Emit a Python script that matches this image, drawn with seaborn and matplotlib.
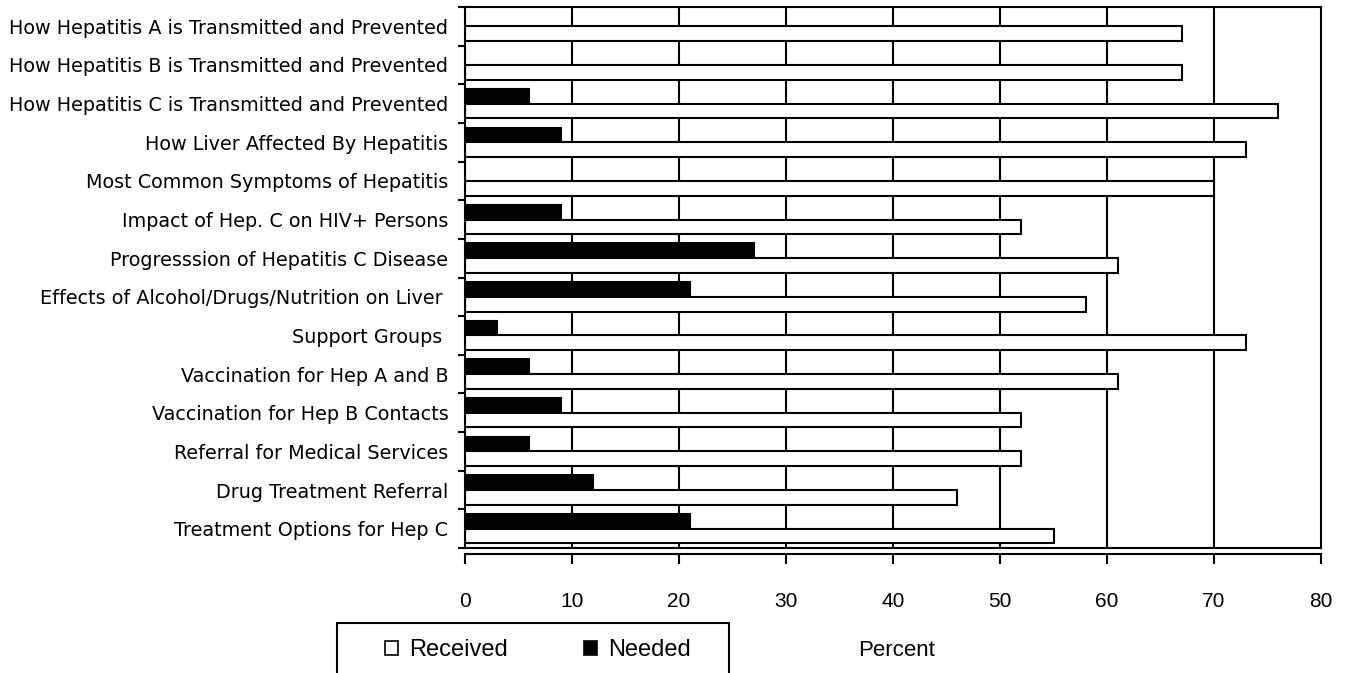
import numpy as np
import pandas as pd
import matplotlib
matplotlib.use("Agg")
import matplotlib.pyplot as plt
from matplotlib.patches import Patch, Rectangle
from matplotlib.ticker import FixedLocator
import seaborn as sns

# Chart data
topics = [
    "How Hepatitis A is Transmitted and Prevented",
    "How Hepatitis B is Transmitted and Prevented",
    "How Hepatitis C is Transmitted and Prevented",
    "How Liver Affected By Hepatitis",
    "Most Common Symptoms of Hepatitis",
    "Impact of Hep. C on HIV+ Persons",
    "Progresssion of Hepatitis C Disease",
    "Effects of Alcohol/Drugs/Nutrition on Liver ",
    "Support Groups ",
    "Vaccination for Hep A and B",
    "Vaccination for Hep B Contacts",
    "Referral for Medical Services",
    "Drug Treatment Referral",
    "Treatment Options for Hep C",
]
received = [67, 67, 76, 73, 70, 52, 61, 58, 73, 61, 52, 52, 46, 55]
needed = [0, 0, 6, 9, 0, 9, 27, 21, 3, 6, 9, 6, 12, 21]
series = ["Needed", "Received"]
x_ticks = [0, 10, 20, 30, 40, 50, 60, 70, 80]

df = pd.DataFrame({
    "Topic": topics * 2,
    "Series": ["Needed"] * len(topics) + ["Received"] * len(topics),
    "Percent": needed + received,
})

sns.set_style("white")
plt.rcParams["font.family"] = ["Liberation Sans", "DejaVu Sans"]
plt.rcParams["text.color"] = "black"
plt.rcParams["xtick.color"] = "black"
plt.rcParams["ytick.color"] = "black"
plt.rcParams["axes.labelcolor"] = "black"

arial = ["Liberation Sans", "DejaVu Sans"]

W, H = 1346, 673
fig = plt.figure(figsize=(W / 100, H / 100), dpi=100)
ax = fig.add_axes([465 / W, 1 - 548 / H, (1321 - 465) / W, (548 - 7) / H])

# vertical gridlines behind the bars
for xv in x_ticks[1:-1]:
    ax.axvline(xv, color="black", lw=1.5, zorder=0)

sns.barplot(data=df, y="Topic", x="Percent", hue="Series", order=topics,
            hue_order=series, palette={"Needed": "black", "Received": "white"},
            edgecolor="black", linewidth=1.5, width=0.76, orient="h",
            legend=False, ax=ax, zorder=2)

n = len(topics)
ax.set_xlim(0, 80)
ax.set_ylim(n - 0.5, -0.5)
ax.axhline(n - 0.5, color="black", lw=1.5, clip_on=False, zorder=3)

for side in ["top", "right", "left", "bottom"]:
    ax.spines[side].set_visible(True)
    ax.spines[side].set_color("black")
    ax.spines[side].set_linewidth(1.5)
ax.spines["bottom"].set_position(("outward", 4.5))

ax.set_xticks(x_ticks)
ax.set_xticklabels([str(v) for v in x_ticks], fontsize=15, family=arial)
ax.tick_params(axis="x", direction="out", length=7, width=1.5, pad=20,
               bottom=True, color="black")

ax.set_yticks(range(n))
ax.set_yticklabels(topics, fontsize=13.8, family=["DejaVu Sans Condensed", "DejaVu Sans"])
ax.tick_params(axis="y", which="major", length=0, pad=12)
ax.yaxis.set_minor_locator(FixedLocator(np.arange(-0.5, n, 1.0)))
ax.tick_params(axis="y", which="minor", direction="out", length=5, width=1.5,
               left=True, color="black")

ax.set_ylabel("")
ax.set_xlabel("Percent", fontsize=16, family=arial)
ax.xaxis.set_label_coords((897 - 465) / (1321 - 465), (548 - 650) / (548 - 7))
ax.xaxis.label.set_va("center")

# legend box (bottom runs off the figure edge)
fig.patches.append(Rectangle((337 / W, -0.05), (729 - 337) / W, 0.05 + 1 - 623 / H,
                             transform=fig.transFigure, facecolor="white",
                             edgecolor="black", lw=1.5))
handles = [Patch(facecolor="white", edgecolor="black", lw=1.2),
           Patch(facecolor="black", edgecolor="black", lw=1.2)]
fig.legend(handles, ["Received", "Needed"], ncol=2, frameon=False,
           loc="center", bbox_to_anchor=(((378 + 698) / 2) / W, 1 - 650 / H),
           prop={"family": arial, "size": 17}, handlelength=0.55,
           handleheight=0.55, handletextpad=0.5, columnspacing=3.2)

fig.savefig("out.png", dpi=100)
